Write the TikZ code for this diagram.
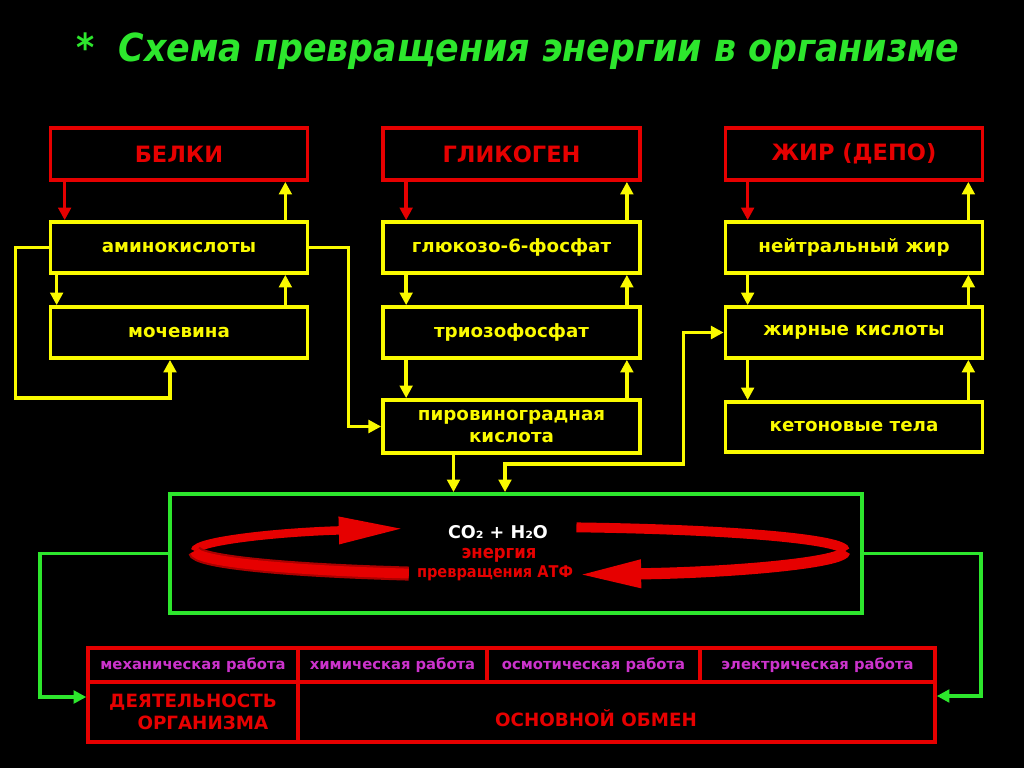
\documentclass[tikz,border=0pt]{standalone}
\usepackage{fontspec}
\setmainfont{DejaVu Sans}
\newfontfamily\condfont{DejaVu Sans Condensed}
\usepackage{xcolor}
\usetikzlibrary{positioning,calc,arrows.meta}

\definecolor{bred}{RGB}{230,0,0}
\definecolor{darkred}{RGB}{170,0,0}
\definecolor{byellow}{RGB}{250,250,0}
\definecolor{bgreen}{RGB}{45,230,45}
\definecolor{bmagenta}{RGB}{204,51,204}

\begin{document}
\begin{tikzpicture}[x=0.025cm, y=-0.025cm, ->, >={Triangle[length=9pt,width=9pt]}, every edge/.append style={line width=2.6pt}, depot/.style = {draw=bred, line width=2.6pt, minimum width=6.425cm, minimum height=1.3cm, text=bred, font=\fontsize{16}{19}\selectfont\bfseries}, stage/.style = {draw=byellow, line width=2.6pt, minimum width=6.425cm, minimum height=1.275cm, text=byellow, align=center, font=\fontsize{13}{15.5}\selectfont\bfseries}, work/.style = {draw=bred, line width=2.4pt, minimum height=0.85cm, inner sep=0pt, text=bmagenta, font=\fontsize{10.5}{12}\selectfont\bfseries}, sum/.style = {draw=bred, line width=2.4pt, minimum height=1.5cm, text=bred, align=center, font=\fontsize{13}{16}\selectfont\bfseries}, ring/.style = {bred, line cap=butt}]

\useasboundingbox (0,0) rectangle (1024,768);
\fill[black] (0,0) rectangle (1024,768);

\node[text=bgreen, font=\fontsize{27.5}{33}\condfont\bfseries\itshape] (title) at (518,51) {*\ \ Схема превращения энергии в организме};

% depots
\node[depot] (belki) at (179,154) {БЕЛКИ};
\node[depot] (glyk) at (511.5,154) {ГЛИКОГЕН};
\node[depot] (zhir) at (854,154) {ЖИР (ДЕПО)};

% intermediate stages
\node[stage] (amino) at (179,247.5) {аминокислоты};
\node[stage] (mochev) at (179,332.5) {мочевина};
\node[stage] (gluk) at (511.5,247.5) {глюкозо-6-фосфат};
\node[stage] (trioz) at (511.5,332.5) {триозофосфат};
\node[stage, minimum height=1.325cm] (piro) at (511.5,426.5) {пировиноградная\\кислота};
\node[stage] (neutr) at (854,247.5) {нейтральный жир};
\node[stage] (zhkisl) at (854,332.5) {жирные кислоты};
\node[stage, minimum height=1.25cm] (keton) at (854,427) {кетоновые тела};

\path
 ([xshift=0.4cm]belki.south west) edge[bred] ([xshift=0.4cm]amino.north west)
 ([xshift=-0.6cm]amino.north east) edge[byellow] ([xshift=-0.6cm]belki.south east)
 ([xshift=0.2cm]amino.south west) edge[byellow] ([xshift=0.2cm]mochev.north west)
 ([xshift=-0.6cm]mochev.north east) edge[byellow] ([xshift=-0.6cm]amino.south east)
 ([xshift=0.625cm]glyk.south west) edge[bred] ([xshift=0.625cm]gluk.north west)
 ([xshift=-0.375cm]gluk.north east) edge[byellow] ([xshift=-0.375cm]glyk.south east)
 ([xshift=0.625cm]gluk.south west) edge[byellow] ([xshift=0.625cm]trioz.north west)
 ([xshift=-0.375cm]trioz.north east) edge[byellow] ([xshift=-0.375cm]gluk.south east)
 ([xshift=0.625cm]trioz.south west) edge[byellow] ([xshift=0.625cm]piro.north west)
 ([xshift=-0.375cm]piro.north east) edge[byellow] ([xshift=-0.375cm]trioz.south east)
 ([xshift=0.6cm]zhir.south west) edge[bred] ([xshift=0.6cm]neutr.north west)
 ([xshift=-0.4cm]neutr.north east) edge[byellow] ([xshift=-0.4cm]zhir.south east)
 ([xshift=0.6cm]neutr.south west) edge[byellow] ([xshift=0.6cm]zhkisl.north west)
 ([xshift=-0.4cm]zhkisl.north east) edge[byellow] ([xshift=-0.4cm]neutr.south east)
 ([xshift=0.6cm]zhkisl.south west) edge[byellow] ([xshift=0.6cm]keton.north west)
 ([xshift=-0.4cm]keton.north east) edge[byellow] ([xshift=-0.4cm]zhkisl.south east);

\draw[byellow, line width=2.6pt] (amino.west) -- ++(-33,0) -- ++(0,150.5) -| ([xshift=-0.225cm]mochev.south);
\draw[byellow, line width=2.6pt] (amino.east) -- ++(39,0) |- (piro.west);

% oxidation
\node[draw=bgreen, line width=2.6pt, minimum width=17.3cm, minimum height=2.975cm] (cycle) at (516,553.5) {};
\draw[byellow, line width=2.6pt] ([xshift=-1.45cm]piro.south) -- ([xshift=-1.45cm]piro.south |- cycle.north);
\draw[byellow, line width=2.6pt, <->] ([xshift=-0.275cm]cycle.north) -- ++(0,-28) -| ([xshift=-1cm]zhkisl.west) -- (zhkisl.west);

\coordinate (ringc) at (520,551);
\draw[ring, line width=6pt, -{Triangle[length=46pt,width=18pt]}] ([shift={(180:8.125cm and 0.6cm)}]ringc) arc[start angle=180, end angle=111, x radius=8.125cm, y radius=0.6cm];
\draw[ring, line width=7pt, -] ([shift={(80:8.125cm and 0.6cm)}]ringc) arc[start angle=80, end angle=0, x radius=8.125cm, y radius=0.6cm];
\draw[ring, darkred, line width=10pt, -] ([shift={(180:8.125cm and 0.6cm)}]ringc) arc[start angle=180, end angle=250, x radius=8.125cm, y radius=0.6cm];
\draw[ring, line width=7pt, -] ([shift={(180:8.125cm and 0.6cm)}]ringc) arc[start angle=180, end angle=250, x radius=8.125cm, y radius=0.6cm];
\draw[ring, line width=8pt, -{Triangle[length=46pt,width=18pt]}] ([shift={(0:8.125cm and 0.6cm)}]ringc) arc[start angle=0, end angle=-80, x radius=8.125cm, y radius=0.6cm];

\node[text=white, font=\fontsize{12.5}{15}\selectfont\bfseries] (co2) at (498,532) {CO₂ + H₂O};
\node[text=bred, font=\fontsize{13}{15}\condfont\bfseries] (energy) at (499,555) {энергия};
\node[text=bred, font=\fontsize{11.5}{14}\condfont\bfseries] (atf) at (495,573) {превращения АТФ};

% work table
\node[work, minimum width=5.25cm] (mech) at (193,665) {механическая работа};
\node[work, minimum width=4.725cm] (chem) at (392.5,665) {химическая работа};
\node[work, minimum width=5.325cm] (osm) at (593.5,665) {осмотическая работа};
\node[work, minimum width=5.875cm] (elec) at (817.5,665) {электрическая работа};
\node[sum, minimum width=5.25cm] (activ) at (193,712) {ДЕЯТЕЛЬНОСТЬ\\\hspace*{14pt}ОРГАНИЗМА};
\node[sum, minimum width=15.925cm] (basal) at (616.5,712) {};
\node[text=bred, font=\fontsize{13}{16}\selectfont\bfseries] (basaltxt) at (596,718) {ОСНОВНОЙ ОБМЕН};

\draw[bgreen, line width=2.6pt] (cycle.west) -- ++(-128,0) |- ([yshift=0.375cm]activ.west);
\draw[bgreen, line width=2.6pt] (cycle.east) -- ++(117,0) |- ([yshift=0.4cm]basal.east);
\end{tikzpicture}
\end{document}
